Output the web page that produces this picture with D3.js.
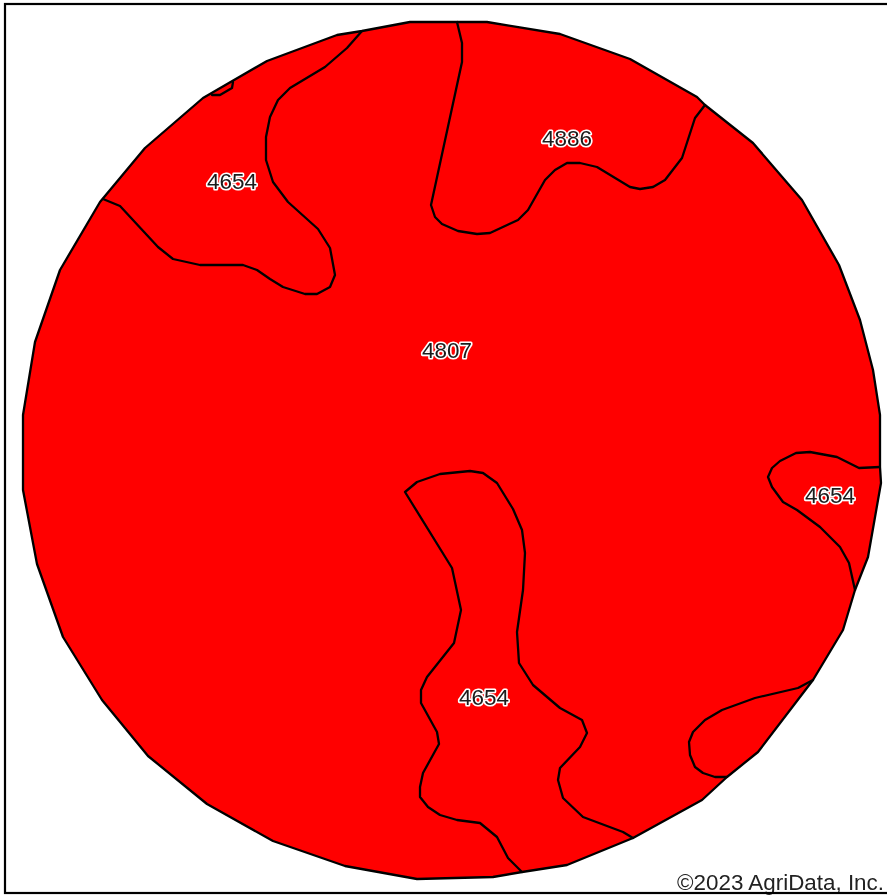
<!DOCTYPE html>
<html>
<head>
<meta charset="utf-8">
<script src="https://cdn.jsdelivr.net/npm/d3@7/dist/d3.min.js"></script>
<style>
  html, body { margin: 0; padding: 0; background: #fff; overflow: hidden; }
  svg { display: block; filter: blur(0.45px); }
  .boundary { fill: #ff0000; stroke: #000; stroke-width: 2.3; stroke-linejoin: round; }
  .soil-line { fill: none; stroke: #000; stroke-width: 2.3; stroke-linejoin: round; stroke-linecap: round; }
  .frame { fill: none; stroke: #000; stroke-width: 2.2; }
  .soil-label { font-family: "Liberation Sans", Arial, sans-serif; font-size: 22.5px; fill: #1c1c1c; stroke: #fff; stroke-width: 3.2px; stroke-linejoin: round; paint-order: stroke; text-anchor: middle; }
  .credit { font-family: "Liberation Sans", Arial, sans-serif; font-size: 22.4px; fill: #222; text-anchor: end; }
</style>
</head>
<body>
<script>
// field boundary, in map units
var fieldOutline = [[410,22],[457,22],[487,22],[560,34],[630,59],[697,97],[705,105],[753,143],[802,200],[839,265],[860,320],[873,370],[880,415],[880,467],[881,483],[868,557],[855,590],[843,630],[813,680],[758,752],[727,777],[702,800],[633,838],[567,865],[522,872],[493,877],[417,879],[345,866],[273,841],[207,804],[148,756],[102,700],[63,637],[37,564],[23,490],[23,415],[35,342],[60,270],[100,202],[145,148],[203,98],[267,61],[337,35],[362,31]];

// soil unit lines inside the field
var lineNorthWest = [[362,31],[347,48],[325,67],[290,88],[278,100],[270,117],[266,137],[266,160],[273,182],[288,202],[318,229],[330,248],[335,275],[330,287],[317,294],[305,294],[283,287],[270,279],[257,270],[243,265],[200,265],[173,259],[158,247],[120,206],[103,199]];
var lineSliver = [[212,95],[220,95],[232,88],[233,82]];
var lineNorth = [[457,22],[462,43],[462,62],[431,205],[435,217],[442,224],[458,231],[477,234],[490,233],[518,220],[528,210],[545,180],[555,170],[567,163],[580,163],[597,167],[630,187],[640,189],[653,187],[665,180],[682,158],[695,118],[705,105]];
var lineSouth = [[522,872],[508,858],[497,837],[480,823],[457,820],[440,815],[428,807],[420,797],[420,787],[423,773],[439,744],[437,732],[421,703],[421,690],[427,677],[454,643],[461,610],[452,568],[405,492],[417,482],[440,474],[470,471],[483,473],[497,483],[513,509],[522,530],[525,553],[523,590],[517,632],[519,663],[533,685],[560,708],[582,720],[587,733],[580,747],[560,768],[558,780],[563,798],[583,817],[623,832],[633,838]];
var lineEast = [[880,467],[859,468],[837,457],[810,452],[796,453],[780,461],[772,468],[768,477],[772,487],[783,502],[797,510],[820,527],[840,547],[849,563],[855,590]];
var lineSouthEast = [[813,680],[798,688],[755,698],[722,710],[705,720],[693,732],[689,742],[690,755],[695,767],[703,773],[715,777],[727,777]];

// soil map unit labels
var labelNames = ["4654", "4886", "4807", "4654", "4654"];
var labelX = [232, 567, 447, 830, 484];
var labelY = [181, 138, 350, 495, 697];

var w = 887;
var h = 895;

var xScale = d3.scaleLinear().domain([0, 887]).range([0, w]);
var yScale = d3.scaleLinear().domain([0, 895]).range([0, h]);

var valueline = d3.line()
  .x(function(d) { return xScale(d[0]); })
  .y(function(d) { return yScale(d[1]); });

var svg = d3.select("body")
  .append("svg")
  .attr("width", w)
  .attr("height", h);

//Create field
svg.append("path")
  .datum(fieldOutline)
  .attr("class", "boundary")
  .attr("d", function(d) { return valueline(d) + "Z"; });

//Create soil lines
svg.selectAll(".soil-line")
  .data([lineNorthWest, lineSliver, lineNorth, lineSouth, lineEast, lineSouthEast])
  .enter()
  .append("path")
  .attr("class", "soil-line")
  .attr("d", valueline);

//Create labels
svg.selectAll(".soil-label")
  .data(labelNames)
  .enter()
  .append("text")
  .attr("class", "soil-label")
  .attr("x", function(d, i) { return xScale(labelX[i]); })
  .attr("y", function(d, i) { return yScale(labelY[i]); })
  .attr("dy", "0.36em")
  .text(function(d) { return d; });

svg.append("text")
  .attr("class", "credit")
  .attr("x", 884)
  .attr("y", 890)
  .text("©2023 AgriData, Inc.");

//Frame goes on last, it clips the bottom of the credit
svg.append("rect")
  .attr("class", "frame")
  .attr("x", 5)
  .attr("y", 4)
  .attr("width", 890)
  .attr("height", 889);
</script>
</body>
</html>
